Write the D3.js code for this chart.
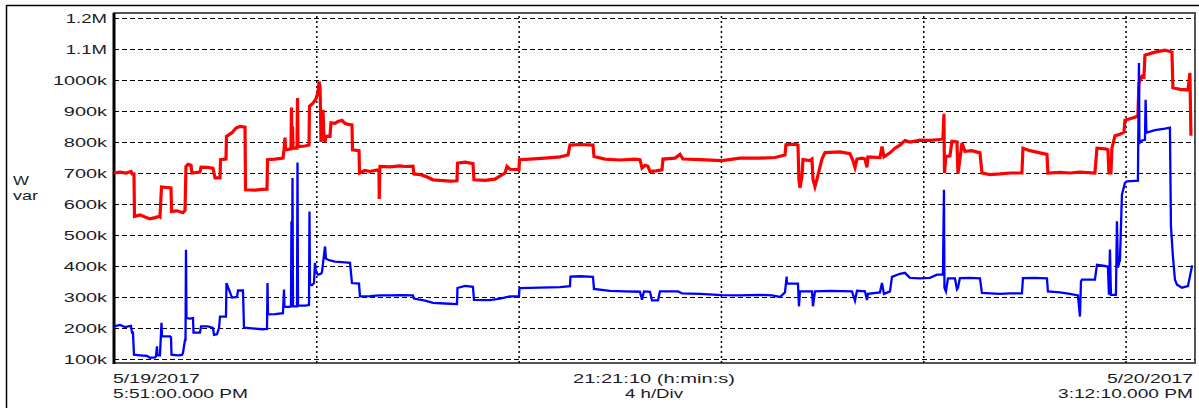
<!DOCTYPE html>
<html><head><meta charset="utf-8">
<script src="https://cdn.jsdelivr.net/npm/d3@7"></script>
<style>
html,body{margin:0;padding:0;background:#fff;}
svg{display:block;}
text{font-family:"Liberation Sans",Arial,sans-serif;fill:#1c1c28;}
</style></head>
<body>
<svg id="chart" width="1199" height="408"></svg>
<script>
// ---- data (hours after 5/19/2017 5:51:00 PM, values in k) ----
const durationHours = 21.3528;            // 21:21:10
const divHours = [4, 8, 12, 16, 20];      // 4 h/Div
const yTickValues = [100,200,300,400,500,600,700,800,900,1000,1100,1200];
const yTickLabels = ["100k","200k","300k","400k","500k","600k","700k","800k","900k","1000k","1.1M","1.2M"];
const unitLabels = ["W","var"];
const startLabels = ["5/19/2017","5:51:00.000 PM"];
const midLabels = ["21:21:10 (h:min:s)","4 h/Div"];
const endLabels = ["5/20/2017","3:12:10.000 PM"];

const redHours = [0,0.119,0.237,0.336,0.356,0.395,0.405,0.514,0.613,0.712,0.811,0.890,0.909,0.939,1.127,1.137,1.246,1.364,1.404,1.423,1.463,1.522,1.542,1.700,1.720,1.858,1.957,1.977,1.997,2.096,2.106,2.214,2.224,2.333,2.412,2.491,2.590,2.600,2.788,2.926,3.025,3.035,3.183,3.341,3.361,3.381,3.391,3.499,3.509,3.519,3.529,3.539,3.618,3.628,3.638,3.776,3.855,3.865,3.934,3.994,4.033,4.053,4.073,4.083,4.092,4.112,4.132,4.152,4.172,4.191,4.270,4.290,4.369,4.428,4.508,4.567,4.626,4.705,4.715,4.844,4.854,4.962,5.061,5.200,5.239,5.245,5.255,5.259,5.457,5.654,5.753,5.911,5.931,6.050,6.149,6.307,6.445,6.643,6.781,6.791,6.940,7.097,7.117,7.335,7.532,7.730,7.770,7.829,8.007,8.017,8.224,8.521,8.817,8.976,9.015,9.213,9.470,9.490,9.707,10.004,10.300,10.399,10.439,10.498,10.557,10.597,10.715,10.834,10.854,11.091,11.190,11.249,11.585,12.020,12.376,12.771,13.068,13.266,13.285,13.463,13.523,13.542,13.562,13.602,13.622,13.760,13.800,13.819,13.859,13.899,13.997,14.057,14.353,14.551,14.610,14.650,14.689,14.788,14.848,14.887,14.907,15.144,15.184,15.223,15.342,15.440,15.539,15.638,15.737,15.935,16.132,16.330,16.389,16.409,16.419,16.449,16.528,16.567,16.666,16.686,16.725,16.765,16.824,16.963,17.121,17.160,17.318,17.516,17.714,17.951,17.971,18.109,18.307,18.445,18.465,18.702,18.900,19.098,19.394,19.434,19.592,19.651,19.671,19.711,19.730,19.790,19.889,19.968,19.987,20.086,20.185,20.244,20.264,20.324,20.363,20.383,20.581,20.778,20.877,20.917,20.936,21.075,21.233,21.272,21.292,21.332];
const redValues = [700,703,700,705,697,697,560,565,558,552,556,560,558,655,652,576,578,572,580,721,728,725,700,703,719,718,715,700,684,684,743,745,818,830,845,850,848,646,645,647,648,743,745,748,775,814,775,778,911,778,850,780,780,942,785,787,790,915,925,940,960,995,980,904,800,850,904,810,800,818,818,862,860,866,870,860,857,855,775,772,700,708,705,710,705,616,705,721,720,723,721,722,697,695,690,678,676,674,675,732,735,730,678,676,680,700,721,712,711,743,745,748,752,758,790,792,790,753,745,742,745,743,716,725,722,705,707,710,745,748,760,745,743,740,748,748,750,758,791,793,790,678,652,690,743,740,745,680,656,680,745,766,768,762,740,718,745,748,745,718,752,750,785,752,765,780,790,805,800,806,805,808,812,891,700,753,755,802,800,698,745,797,770,772,765,700,695,697,700,700,780,772,765,760,700,702,700,703,700,780,778,775,700,700,780,820,825,832,870,875,880,885,990,1012,1010,1080,1090,1096,1092,1090,975,970,968,1023,820];

const blueHours = [0,0.119,0.218,0.336,0.356,0.375,0.395,0.514,0.653,0.712,0.811,0.830,0.850,0.860,0.909,0.939,0.949,1.107,1.127,1.137,1.265,1.344,1.364,1.404,1.414,1.423,1.433,1.503,1.562,1.572,1.700,1.720,1.858,1.957,1.977,2.036,2.076,2.096,2.194,2.214,2.224,2.333,2.432,2.452,2.550,2.570,2.788,2.926,3.025,3.035,3.045,3.183,3.341,3.361,3.371,3.480,3.499,3.509,3.519,3.529,3.539,3.618,3.628,3.638,3.776,3.855,3.865,3.875,3.914,3.954,3.974,3.994,4.033,4.092,4.112,4.172,4.191,4.231,4.270,4.369,4.567,4.666,4.705,4.844,4.863,5.061,5.259,5.457,5.654,5.911,5.931,6.149,6.307,6.544,6.781,6.791,6.940,7.097,7.117,7.434,7.631,7.829,8.007,8.017,8.422,8.817,9.015,9.025,9.213,9.470,9.490,9.806,10.102,10.399,10.439,10.478,10.597,10.636,10.755,10.794,11.150,11.229,11.585,12.020,12.376,12.771,13.009,13.167,13.266,13.299,13.305,13.523,13.542,13.562,13.800,13.819,13.859,14.155,14.590,14.650,14.689,14.848,14.887,14.907,15.144,15.184,15.223,15.342,15.381,15.539,15.638,15.737,15.935,16.132,16.271,16.389,16.409,16.419,16.449,16.488,16.626,16.666,16.686,16.725,16.923,17.121,17.160,17.516,17.714,17.951,17.971,18.208,18.445,18.465,18.702,18.900,19.058,19.098,19.118,19.137,19.394,19.434,19.592,19.651,19.671,19.691,19.711,19.809,19.829,19.849,19.889,19.928,19.987,20.027,20.244,20.264,20.274,20.324,20.383,20.396,20.412,20.581,20.778,20.877,20.897,20.936,20.976,21.016,21.114,21.233,21.312,21.332];
const blueValues = [205,210,203,207,185,185,114,112,110,104,105,108,141,112,112,217,173,173,170,114,112,113,120,162,162,452,232,230,232,185,185,205,205,200,178,180,200,237,237,237,345,298,300,321,321,201,198,196,197,345,244,245,248,324,268,268,270,544,270,684,270,270,734,272,272,274,576,340,338,345,410,380,372,375,380,463,424,420,418,414,412,410,345,343,302,303,305,305,306,305,295,288,281,279,277,329,336,333,291,290,295,302,302,329,330,332,335,366,367,365,326,320,318,317,291,318,317,289,289,318,318,312,310,306,305,307,305,300,315,366,343,343,270,318,318,270,318,320,318,288,320,318,290,310,315,345,310,318,365,375,378,362,360,362,372,372,646,330,318,360,360,325,330,361,362,360,313,310,312,312,361,362,360,318,315,310,305,237,350,356,356,404,400,398,307,453,307,307,544,395,420,630,668,673,675,1055,797,805,807,936,830,838,843,846,528,431,356,340,330,335,399,399];

// ---- layout ----
const svg = d3.select("#chart");
const L = 114, R = 1195, T = 13, B = 363;
const x = d3.scaleLinear().domain([0, durationHours]).range([L, 1194]);
const y = d3.scaleLinear().domain([100, 1200]).range([359, 18]);

// outer frame (top & left)
svg.append("line").attr("x1",6.5).attr("x2",1199).attr("y1",5.5).attr("y2",5.5).attr("stroke","#000").attr("stroke-width",1.5);
svg.append("line").attr("x1",6.5).attr("x2",6.5).attr("y1",5).attr("y2",408).attr("stroke","#000").attr("stroke-width",1.5);

// plot border
svg.append("rect").attr("x",L).attr("y",T).attr("width",R-L).attr("height",B-T)
  .attr("fill","none").attr("stroke","#555").attr("stroke-width",2);

// horizontal gridlines
const hGrid = d3.axisLeft(y).tickValues(yTickValues).tickSize(-(R-L)).tickFormat("");
svg.append("g").attr("transform",`translate(${L},0)`).call(hGrid)
  .call(g=>g.select(".domain").remove())
  .call(g=>g.selectAll("line").attr("stroke","#000").attr("stroke-width",1).attr("stroke-dasharray","5,3"));

// vertical gridlines
const vGrid = d3.axisBottom(x).tickValues(divHours).tickSize(-(B-T)).tickFormat("");
svg.append("g").attr("transform",`translate(0,${B})`).call(vGrid)
  .call(g=>g.select(".domain").remove())
  .call(g=>g.selectAll("line").attr("stroke","#000").attr("stroke-width",1.5).attr("stroke-dasharray","2,3"));

// y tick labels
const yAxis = d3.axisLeft(y).tickValues(yTickValues).tickSize(0).tickPadding(0)
  .tickFormat((d,i)=>yTickLabels[i]);
const ya = svg.append("g").attr("transform",`translate(107,0)`).call(yAxis);
ya.select(".domain").remove();
ya.selectAll("text").attr("font-size",13).attr("dy","0.36em")
  .attr("textLength",(d,i)=>yTickLabels[i].length*(yTickLabels[i].includes("M")?10.3:10.8))
  .attr("lengthAdjust","spacingAndGlyphs")
  .style("font-family","'Liberation Sans',Arial,sans-serif").style("fill","#1c1c28");

// left axis (thick)
svg.append("line").attr("x1",L).attr("x2",L).attr("y1",T).attr("y2",B+1).attr("stroke","#000").attr("stroke-width",3);

// series
const line = d3.line().x(d=>x(d[0])).y(d=>y(d[1]));
const redData = redHours.map((h,i)=>[h, redValues[i]]);
const blueData = blueHours.map((h,i)=>[h, blueValues[i]]);
svg.append("path").datum(redData).attr("d",line).attr("fill","none")
  .attr("stroke","#ff0000").attr("stroke-width",3.2).attr("stroke-linejoin","miter");
svg.append("path").datum(blueData).attr("d",line).attr("fill","none")
  .attr("stroke","#0000ff").attr("stroke-width",2.3).attr("stroke-linejoin","miter");

// texts
function txt(s, xx, yy, anchor, len){
  svg.append("text").attr("x",xx).attr("y",yy).attr("font-size",13)
    .attr("text-anchor",anchor).attr("textLength",len).attr("lengthAdjust","spacingAndGlyphs").text(s);
}
txt(unitLabels[0], 13, 185, "start", 16);
txt(unitLabels[1], 13, 200, "start", 25);
txt(startLabels[0], 113, 383, "start", 87);
txt(startLabels[1], 113, 398, "start", 135);
txt(midLabels[0], 654, 383, "middle", 162);
txt(midLabels[1], 654, 398, "middle", 58);
txt(endLabels[0], 1193, 383, "end", 86);
txt(endLabels[1], 1193, 398, "end", 135);
</script>
</body></html>
